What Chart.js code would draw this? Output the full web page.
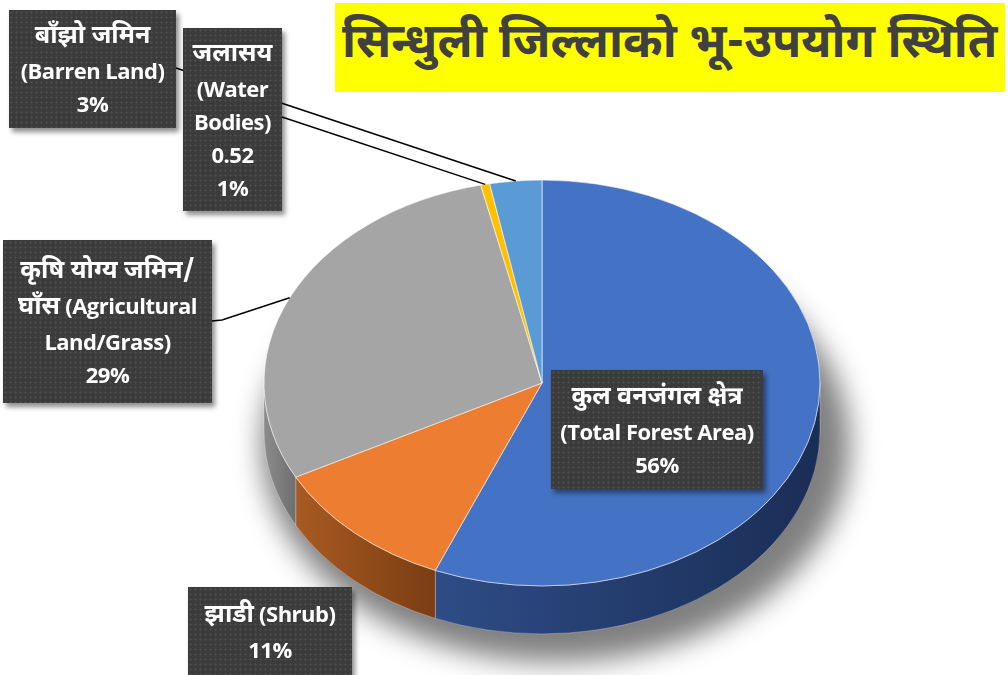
<!DOCTYPE html>
<html>
<head>
<meta charset="utf-8">
<script src="https://cdn.jsdelivr.net/npm/chart.js@4/dist/chart.umd.min.js"></script>
<style>
  body { margin: 0; background: #fff; }
  #wrap { position: relative; width: 1008px; height: 675px; overflow: hidden; background: #fff; }
  #pie { position: absolute; left: 0; top: 0; }
  #title {
    position: absolute; left: 335px; top: 3px; width: 670px; height: 89px;
    background: #ffff00; color: #404040;
    display: flex; align-items: center; justify-content: center; white-space: nowrap;
  }
  #title span {
    display: inline-block; font-weight: bold; font-size: 48px;
    font-family: "Noto Sans Devanagari", "Noto Sans", sans-serif;
    transform-origin: center center; margin-top: -4px;
  }
  .box {
    position: absolute; color: #fff; font-weight: bold; font-size: 22px; line-height: 33px;
    font-family: "Open Sans", "Noto Sans Devanagari", "Noto Sans", sans-serif;
    letter-spacing: -0.5px;
    background-color: #3b3b3b;
    background-image: radial-gradient(circle, #4c4c4c 0.9px, transparent 1.3px);
    background-size: 5px 5px;
    box-shadow: 3px 4px 5px rgba(0,0,0,0.45);
    display: flex; flex-direction: column; align-items: center; justify-content: center;
    text-align: center; white-space: nowrap;
  }
  .dev { font-size: 25px; letter-spacing: 0; font-family: "Noto Sans Devanagari", "Noto Sans", sans-serif; }
</style>
</head>
<body>
<div id="wrap">
  <canvas id="pie" width="1008" height="675"></canvas>
  <div id="title"><span></span></div>
</div>
<script>
const titleText = 'सिन्धुली जिल्लाको भू-उपयोग स्थिति';
const categories = ['कुल वनजंगल क्षेत्र (Total Forest Area)', 'झाडी (Shrub)', 'कृषि योग्य जमिन/ घाँस (Agricultural Land/Grass)', 'जलासय (Water Bodies) 0.52', 'बाँझो जमिन (Barren Land)'];
const labelLines = [
  ['कुल वनजंगल क्षेत्र', '(Total Forest Area)'],
  ['झाडी (Shrub)'],
  ['कृषि योग्य जमिन/', 'घाँस (Agricultural', 'Land/Grass)'],
  ['जलासय', '(Water', 'Bodies)', '0.52'],
  ['बाँझो जमिन', '(Barren Land)']
];
const values = [56, 11, 29, 0.52, 3];
const colors = ['#4472c4', '#ed7d31', '#a5a5a5', '#ffc000', '#5b9bd5'];
const sideColors = [['#2e4c86', '#1a2d55'], ['#a85b22', '#7a3d12'], ['#8c8c8c', '#6e6e6e'], ['#b38600', '#8a6700'], ['#3f73a3', '#2c5580']];

// layout of the 3D pie on screen
const CX = 542, CY = 383, RX = 278, SY = 0.73, DEPTH = 48;
// label boxes: left, top, width, height, and where the leader line leaves the box
const boxes = [
  { l: 551, t: 370, w: 212, h: 119 },
  { l: 188, t: 587, w: 164, h: 100, pad: 12 },
  { l: 3, t: 240, w: 209, h: 163, lead: [[212, 321], [222, 320]] },
  { l: 183, t: 28, w: 99, h: 183, lead: [[282, 117]] },
  { l: 9, t: 10, w: 167, h: 118, lead: [[176, 68]] }
];

const titleSpan = document.querySelector('#title span');
titleSpan.textContent = titleText;
titleSpan.style.transform = 'scaleX(' + (655 / titleSpan.offsetWidth) + ')';

function addLine(parent, text) {
  const line = document.createElement('div');
  text.split(/([\u0900-\u097F]+(?:[ \/]+[\u0900-\u097F]+)*\/?)/).forEach(part => {
    if (!part) return;
    if (/[\u0900-\u097F]/.test(part)) {
      const s = document.createElement('span');
      s.className = 'dev';
      s.textContent = part;
      line.appendChild(s);
    } else {
      line.appendChild(document.createTextNode(part));
    }
  });
  parent.appendChild(line);
}

const total = values.reduce((a, b) => a + b, 0);
const wrap = document.getElementById('wrap');
values.forEach((v, i) => {
  const b = boxes[i];
  const d = document.createElement('div');
  d.className = 'box';
  d.style.left = b.l + 'px'; d.style.top = b.t + 'px';
  d.style.width = b.w + 'px'; d.style.height = b.h + 'px';
  if (b.pad) { d.style.paddingBottom = b.pad + 'px'; d.style.boxSizing = 'border-box'; }
  labelLines[i].concat([Math.round(v / total * 100) + '%']).forEach(t => addLine(d, t));
  d.title = categories[i];
  wrap.appendChild(d);
});

function ellipseY(r, a) { return CY + r * Math.sin(a) * SY; }

const pie3d = {
  id: 'pie3d',
  beforeDraw(chart) {
    // soft shadow under the pie
    const ctx = chart.ctx;
    ctx.save();
    ctx.filter = 'blur(14px)';
    ctx.fillStyle = 'rgba(0,0,0,0.5)';
    ctx.beginPath();
    ctx.ellipse(CX + 14, CY + DEPTH + 14, RX + 16, RX * SY + 14, 0, 0, Math.PI * 2);
    ctx.fill();
    ctx.restore();
  },
  beforeDatasetsDraw(chart) {
    const ctx = chart.ctx;
    const arcs = chart.getDatasetMeta(0).data;
    const r = arcs[0].outerRadius;
    const ry = r * SY;
    // side walls, only the front half is visible
    arcs.forEach((arc, i) => {
      const a = Math.max(arc.startAngle, 0);
      const b = Math.min(arc.endAngle, Math.PI);
      if (b <= a) return;
      const x1 = CX + r * Math.cos(a), x2 = CX + r * Math.cos(b);
      const g = ctx.createLinearGradient(Math.min(x1, x2), 0, Math.max(x1, x2), 0);
      g.addColorStop(0, sideColors[i][0]);
      g.addColorStop(1, sideColors[i][1]);
      ctx.save();
      ctx.beginPath();
      ctx.ellipse(CX, CY, r, ry, 0, a, b, false);
      ctx.ellipse(CX, CY + DEPTH, r, ry, 0, b, a, true);
      ctx.closePath();
      ctx.fillStyle = g;
      ctx.fill();
      ctx.strokeStyle = 'rgba(255,255,255,0.35)';
      ctx.lineWidth = 0.8;
      ctx.stroke();
      ctx.restore();
    });
    // squash the top face
    ctx.save();
    ctx.translate(0, CY);
    ctx.scale(1, SY);
    ctx.translate(0, -arcs[0].y);
  },
  afterDatasetsDraw(chart) {
    chart.ctx.restore();
  },
  afterDraw(chart) {
    const ctx = chart.ctx;
    const arcs = chart.getDatasetMeta(0).data;
    ctx.save();
    ctx.strokeStyle = '#000';
    ctx.lineWidth = 1.5;
    arcs.forEach((arc, i) => {
      const lead = boxes[i].lead;
      if (!lead) return;
      const m = (arc.startAngle + arc.endAngle) / 2;
      const px = CX + arc.outerRadius * Math.cos(m);
      const py = ellipseY(arc.outerRadius, m);
      ctx.beginPath();
      ctx.moveTo(lead[0][0], lead[0][1]);
      lead.slice(1).forEach(p => ctx.lineTo(p[0], p[1]));
      ctx.lineTo(px, py);
      ctx.stroke();
    });
    ctx.restore();
  }
};

new Chart(document.getElementById('pie'), {
  type: 'pie',
  data: {
    labels: categories,
    datasets: [{
      data: values,
      backgroundColor: colors,
      borderColor: 'rgba(255,255,255,0.7)',
      borderWidth: 1
    }]
  },
  options: {
    responsive: false,
    animation: false,
    radius: RX,
    layout: { padding: { left: 2 * CX - 1008, top: 0, right: 0, bottom: 0 } },
    plugins: { legend: { display: false }, tooltip: { enabled: false } }
  },
  plugins: [pie3d]
});
</script>
</body>
</html>
